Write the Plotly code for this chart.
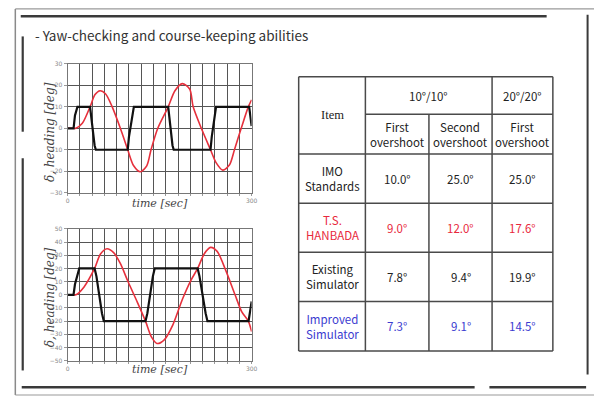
import plotly.graph_objects as go

W, H = 600, 399

# ---------------- data ----------------
# 10/10 zig-zag test
t_rud_10 = [0, 9.7, 12, 16, 36.6, 39, 44, 46, 98, 100, 106, 108, 164, 166, 171, 173, 233, 235, 240, 242, 296, 300]
rud_10 = [0, 0, 6, 10, 10, 4, -8, -10, -10, -4, 8, 10, 10, 4, -8, -10, -10, -4, 8, 10, 10, 1]
t_head_10 = [0, 10, 13.5, 24, 36.6, 44.7, 52.8, 62, 72.7, 86, 98, 107.7, 118.5, 129, 136, 147, 164, 175, 187, 199, 204.7, 218, 233, 242, 253, 264, 272, 283, 294.6, 300]
head_10 = [0, 0, 0, 2.3, 10, 15.7, 17.5, 16, 10, 0, -10, -17.5, -20.3, -17.5, -10, 0, 10, 17.5, 20.8, 18.3, 10, 0, -10, -16, -19.5, -17, -10, 0, 10, 13.3]

# 20/20 zig-zag test
t_rud_20 = [0, 9.6, 12, 19, 44, 47, 56, 59, 127, 130, 139, 142, 212, 215, 225, 228, 295, 300]
rud_20 = [0, 0, 8, 20, 20, 14, -14, -20, -20, -14, 14, 20, 20, 14, -14, -20, -20, -5]
t_head_20 = [0, 10, 13.4, 26.8, 43.9, 53.6, 64.3, 75, 85.7, 99, 113.6, 127, 136.6, 145.7, 158, 171.4, 187.5, 201, 212, 222.6, 233, 243.8, 257, 273, 284, 294.6, 300]
head_20 = [0, 0, 0, 6, 20, 31, 35, 32, 24, 9.5, -5.5, -20, -32, -37, -34, -23, -3, 11, 20, 31, 36, 33, 19.5, 0, -13, -20, -28]

# table
table_rows = ["IMO<br>Standards", "T.S.<br>HANBADA", "Existing<br>Simulator", "Improved<br>Simulator"]
first_10 = ["10.0°", "9.0°", "7.8°", "7.3°"]
second_10 = ["25.0°", "12.0°", "9.4°", "9.1°"]
first_20 = ["25.0°", "17.6°", "19.9°", "14.5°"]
row_colors = ["#222222", "#e8283c", "#222222", "#3b3bd0"]
group_heads = ["10°/10°", "20°/20°"]
sub_heads = ["First<br>overshoot", "Second<br>overshoot", "First<br>overshoot"]
title_text = "- Yaw-checking and course-keeping abilities"

# ---------------- helpers ----------------
def px(x):
    return x / W

def py(y):
    return 1 - y / H

RED = "#e6303c"
BLACK = "#111111"
FONT = "Noto Sans CJK KR"

fig = go.Figure()

fig.add_trace(go.Scatter(x=t_head_10, y=head_10, mode="lines", line=dict(color=RED, width=1.6, shape="spline", smoothing=0.8),
                         xaxis="x", yaxis="y", showlegend=False))
fig.add_trace(go.Scatter(x=t_rud_10, y=rud_10, mode="lines", line=dict(color=BLACK, width=2.2),
                         xaxis="x", yaxis="y", showlegend=False))
fig.add_trace(go.Scatter(x=t_head_20, y=head_20, mode="lines", line=dict(color=RED, width=1.6, shape="spline", smoothing=0.8),
                         xaxis="x2", yaxis="y2", showlegend=False))
fig.add_trace(go.Scatter(x=t_rud_20, y=rud_20, mode="lines", line=dict(color=BLACK, width=2.2),
                         xaxis="x2", yaxis="y2", showlegend=False))

xt = list(range(0, 301, 20))
xtt = ["0"] + [""] * (len(xt) - 2) + ["300"]

def xaxis_cfg(anchor):
    return dict(domain=[px(66.5), px(253)], range=[0, 300], anchor=anchor,
                tickvals=xt, ticktext=xtt, showgrid=True, gridcolor="#555555", gridwidth=1.2,
                showline=True, linecolor="#777777", linewidth=1, mirror=True,
                ticks="outside", ticklen=2, tickcolor="#999999",
                tickfont=dict(size=6, color="#888888", family="DejaVu Sans"), zeroline=False)

def yaxis_cfg(anchor, lo, hi, dom):
    return dict(domain=dom, range=[lo, hi], anchor=anchor, dtick=10,
                showgrid=True, gridcolor="#555555", gridwidth=1.2,
                showline=True, linecolor="#777777", linewidth=1, mirror=True,
                ticks="outside", ticklen=3, tickcolor="#999999",
                tickfont=dict(size=6, color="#888888", family="DejaVu Sans"), zeroline=False)

fig.update_layout(
    width=W, height=H, margin=dict(l=0, r=0, t=0, b=0),
    paper_bgcolor="white", plot_bgcolor="white",
    xaxis=xaxis_cfg("y"),
    yaxis=yaxis_cfg("x", -30, 30, [py(192), py(61)]),
    xaxis2=xaxis_cfg("y2"),
    yaxis2=yaxis_cfg("x2", -50, 50, [py(363), py(229)]),
)

shapes = []
annotations = []

def line(x0, y0, x1, y1, color, width):
    shapes.append(dict(type="line", xref="paper", yref="paper", x0=px(x0), y0=py(y0),
                       x1=px(x1), y1=py(y1), line=dict(color=color, width=width)))

# slide frame
line(13.5, 5, 600, 5, "#9a9a9a", 1.2)
line(13.5, 5, 13.5, 398, "#8a8a8a", 1.5)
line(13.5, 398, 600, 398, "#9a9a9a", 1.2)
line(19, 12.5, 552, 12.5, "#3a3a3a", 2.5)
line(593.5, 11, 593.5, 377, "#3a3a3a", 2)
line(21, 33, 21, 130, "#3a3a3a", 2.2)
line(21, 157, 21, 373, "#3a3a3a", 2.2)
line(20, 390, 479, 390, "#3a3a3a", 2.5)
line(494, 390, 592, 390, "#3a3a3a", 2.5)

# title
annotations.append(dict(text=title_text, xref="paper", yref="paper", x=px(31), y=py(32),
                        xanchor="left", yanchor="middle", showarrow=False,
                        font=dict(size=13.5, color="#333333", family=FONT)))

# axis titles
for yc, yt in [(130, 203), (298, 372)]:
    annotations.append(dict(text="<i>δ, heading [deg]</i>", xref="paper", yref="paper",
                            x=px(48), y=py(yc), textangle=-90, showarrow=False,
                            xanchor="center", yanchor="middle",
                            font=dict(size=12, color="#444444", family="DejaVu Serif")))
    annotations.append(dict(text="<i>time [sec]</i>", xref="paper", yref="paper",
                            x=px(160), y=py(yt), showarrow=False,
                            xanchor="center", yanchor="middle",
                            font=dict(size=11, color="#444444", family="DejaVu Serif")))

# table grid
cx = [300.7, 368.3, 432.7, 496.7, 558.3]
ry = [74, 112.3, 152.7, 202.7, 252.7, 302.7, 353.3]
TC = "#4a4a4a"
TW = 1.5
for yy in [ry[0], ry[-1]]:
    line(cx[0], yy, cx[-1], yy, TC, TW)
for xx in [cx[0], cx[-1]]:
    line(xx, ry[0], xx, ry[-1], TC, TW)
line(cx[1], ry[0], cx[1], ry[-1], TC, TW)
line(cx[3], ry[0], cx[3], ry[-1], TC, TW)
line(cx[2], ry[1], cx[2], ry[-1], TC, TW)
line(cx[1], ry[1], cx[-1], ry[1], TC, TW)
for yy in ry[2:-1]:
    line(cx[0], yy, cx[-1], yy, TC, TW)

def cell_text(text, xc, yc, color="#222222", size=11.5, family=FONT):
    annotations.append(dict(text=text, xref="paper", yref="paper", x=px(xc), y=py(yc),
                            showarrow=False, xanchor="center", yanchor="middle",
                            font=dict(size=size, color=color, family=family)))

cell_text("Item", (cx[0] + cx[1]) / 2, (ry[0] + ry[2]) / 2, family="Liberation Serif", size=12.5)
cell_text(group_heads[0], (cx[1] + cx[3]) / 2, (ry[0] + ry[1]) / 2)
cell_text(group_heads[1], (cx[3] + cx[4]) / 2, (ry[0] + ry[1]) / 2)
for j, s in enumerate(sub_heads):
    cell_text(s, (cx[j + 1] + cx[j + 2]) / 2, (ry[1] + ry[2]) / 2)

for i, name in enumerate(table_rows):
    yc = (ry[i + 2] + ry[i + 3]) / 2
    col = row_colors[i]
    cell_text(name, (cx[0] + cx[1]) / 2, yc, color=col)
    for j, vals in enumerate([first_10, second_10, first_20]):
        cell_text(vals[i], (cx[j + 1] + cx[j + 2]) / 2, yc, color=col)

fig.update_layout(shapes=shapes, annotations=annotations)

fig.write_html("out.html", config={"displayModeBar": False},
               post_script="document.body.style.margin='0px';document.body.style.overflow='hidden';")
